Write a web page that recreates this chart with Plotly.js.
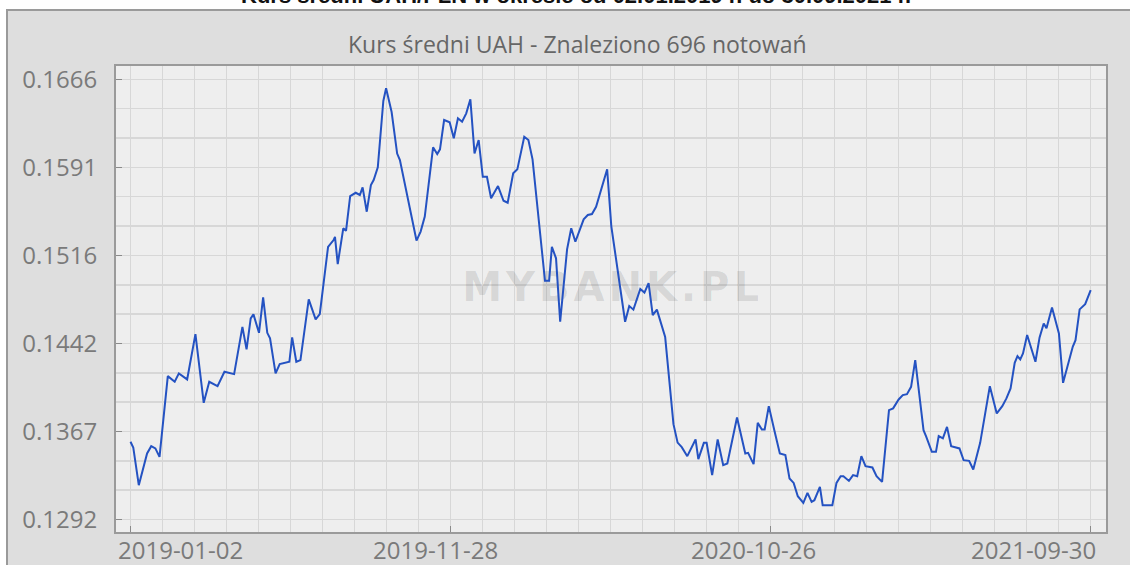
<!DOCTYPE html>
<html>
<head>
<meta charset="utf-8">
<script src="https://cdn.plot.ly/plotly-3.0.1.min.js"></script>
<style>
html,body{margin:0;padding:0;background:#ffffff;overflow:hidden;}
#chart{width:1130px;height:565px;}
</style>
</head>
<body>
<div id="chart"></div>
<script>
// ---- data ----
const chartTitle = 'Kurs średni UAH/PLN w okresie od 02.01.2019 r. do 30.09.2021 r.';
const subTitle = 'Kurs średni UAH - Znaleziono 696 notowań';
const watermarkText = 'MYBANK.PL';
const N_QUOTES = 696;

// quote number (0 = 2019-01-02, 695 = 2021-09-30)
const quoteNo = [
  0,2,6,12,15,18,21,27,32,35,41,47,53,57,63,68,75,81,84,87,
  89,93,96,99,101,105,108,113,115,117,120,123,129,134,137,143,147,148,150,154,
  156,159,163,166,168,171,174,176,179,183,185,189,193,195,207,210,213,219,222,224,
  227,231,234,237,240,243,246,249,252,255,258,261,266,270,273,277,280,285,288,291,
  300,303,305,308,311,316,319,322,328,331,334,337,345,348,358,361,364,369,372,375,
  378,381,387,393,396,399,403,409,411,415,417,421,425,429,432,439,445,447,451,454,
  457,459,462,466,470,474,477,480,483,487,490,493,495,499,501,508,511,514,516,520,
  523,526,529,532,537,540,544,549,552,556,559,562,565,568,574,576,580,583,585,588,
  591,594,600,603,607,610,615,622,627,631,634,637,640,642,644,646,649,655,658,661,
  663,667,672,675,680,682,684,687,691,695
];
// average UAH/PLN rate
const rate = [
  0.13580,0.13532,0.13212,0.13481,0.13543,0.13524,0.13452,0.14138,0.14090,0.14161,
  0.14110,0.14495,0.13911,0.14090,0.14053,0.14175,0.14155,0.14557,0.14365,0.14629,
  0.14663,0.14506,0.14807,0.14506,0.14459,0.14161,0.14240,0.14251,0.14260,0.14467,
  0.14260,0.14274,0.14790,0.14620,0.14665,0.15237,0.15294,0.15322,0.15090,0.15394,
  0.15373,0.15668,0.15696,0.15677,0.15742,0.15535,0.15762,0.15804,0.15912,0.16476,
  0.16584,0.16382,0.16029,0.15974,0.15290,0.15366,0.15494,0.16082,0.16025,0.16065,
  0.16314,0.16295,0.16159,0.16329,0.16300,0.16371,0.16490,0.16031,0.16144,0.15832,
  0.15832,0.15649,0.15753,0.15628,0.15611,0.15861,0.15895,0.16172,0.16144,0.15980,
  0.14948,0.14948,0.15237,0.15139,0.14600,0.15215,0.15394,0.15280,0.15470,0.15507,
  0.15515,0.15577,0.15895,0.15413,0.14600,0.14733,0.14703,0.14878,0.14848,0.14929,
  0.14657,0.14703,0.14470,0.13730,0.13573,0.13535,0.13458,0.13600,0.13433,0.13571,
  0.13571,0.13297,0.13600,0.13382,0.13396,0.13787,0.13481,0.13486,0.13390,0.13741,
  0.13685,0.13685,0.13883,0.13679,0.13481,0.13467,0.13269,0.13231,0.13118,0.13061,
  0.13146,0.13070,0.13084,0.13197,0.13042,0.13042,0.13231,0.13288,0.13288,0.13248,
  0.13297,0.13288,0.13458,0.13373,0.13362,0.13288,0.13240,0.13849,0.13864,0.13940,
  0.13977,0.13985,0.14047,0.14274,0.13679,0.13622,0.13495,0.13495,0.13628,0.13609,
  0.13707,0.13543,0.13524,0.13424,0.13418,0.13345,0.13571,0.14053,0.13821,0.13883,
  0.13949,0.14034,0.14251,0.14308,0.14280,0.14331,0.14487,0.14260,0.14467,0.14586,
  0.14544,0.14722,0.14501,0.14081,0.14289,0.14387,0.14444,0.14705,0.14750,0.14869
];

const xTickLabels = ['2019-01-02', '2019-11-28', '2020-10-26', '2021-09-30'];
const yTickLabels = ['0.1292', '0.1367', '0.1442', '0.1516', '0.1591', '0.1666'];

// ---- derived axis settings ----
const lastQ = N_QUOTES - 1;
const xTickVals = xTickLabels.map((_, i) => i * lastQ / (xTickLabels.length - 1));
const yMin = parseFloat(yTickLabels[0]);
const yMax = parseFloat(yTickLabels[yTickLabels.length - 1]);
const yStep = (yMax - yMin) / (yTickLabels.length - 1);
const yTickVals = yTickLabels.map((_, i) => yMin + i * yStep);
const pxPerQ = 960 / lastQ;
const pxPerY = 440 / (yMax - yMin);

const labelFont = {family: 'Open Sans, Roboto, Arial, sans-serif', size: 24, color: '#7a7a7a'};
const gridCol = '#d7d7d7';

const traces = [
  {
    x: [lastQ / 2], y: [yMin + (yMax - yMin) * 0.5189],
    mode: 'text', type: 'scatter',
    text: [watermarkText.split('').join('\u200A')],
    textfont: {family: 'DejaVu Sans, Arial, sans-serif', size: 40, color: 'rgba(0,0,0,0.11)', weight: 'bold'},
    hoverinfo: 'skip', showlegend: false
  },
  {
    x: quoteNo, y: rate,
    mode: 'lines', type: 'scatter',
    line: {color: '#2452c2', width: 2},
    hoverinfo: 'skip', showlegend: false
  }
];

// x tick labels: first left-aligned to the plot edge, last right-aligned, middle slightly left
const xLabelAnchor = ['left', 'center', 'center', 'right'];
const xLabelShift = [-15, -15, -17, 7];
const xLabelAnnotations = xTickLabels.map((t, i) => ({
  text: t, xref: 'x', yref: 'paper', x: xTickVals[i], y: 0,
  xanchor: xLabelAnchor[i], yanchor: 'top', xshift: xLabelShift[i], yshift: 1,
  showarrow: false, font: labelFont
}));

const layout = {
  width: 1130, height: 565,
  margin: {l: 116, r: 24, t: 66, b: 33, pad: 0},
  paper_bgcolor: '#dedede',
  plot_bgcolor: '#eeeeee',
  showlegend: false,
  xaxis: {
    range: [-14.5 / pxPerQ, lastQ + 15.3 / pxPerQ],
    tickmode: 'array', tickvals: xTickVals, ticktext: xTickLabels,
    showticklabels: false,
    ticks: 'inside', ticklen: 6, tickwidth: 1.5, tickcolor: '#8a8a8a',
    showgrid: true, gridcolor: gridCol, gridwidth: 1.6,
    minor: {tickmode: 'linear', tick0: 0, dtick: lastQ / 30, showgrid: true, gridcolor: gridCol, gridwidth: 1.6, ticks: ''},
    showline: true, linecolor: '#9a9a9a', linewidth: 2, mirror: true,
    zeroline: false, automargin: false, fixedrange: true
  },
  yaxis: {
    range: [yMin - 12.5 / pxPerY, yMax + 13.3 / pxPerY],
    tickmode: 'array', tickvals: yTickVals, ticktext: yTickLabels,
    ticks: 'inside', ticklen: 6, tickwidth: 1.5, tickcolor: '#8a8a8a',
    tickfont: labelFont,
    ticklabelstandoff: 12,
    showgrid: true, gridcolor: gridCol, gridwidth: 1.6,
    minor: {tickmode: 'linear', tick0: yMin, dtick: yStep / 3, showgrid: true, gridcolor: gridCol, gridwidth: 1.6, ticks: ''},
    showline: true, linecolor: '#9a9a9a', linewidth: 2, mirror: true,
    zeroline: false, automargin: false, fixedrange: true
  },
  shapes: [
    // white page area outside the grey panel
    {type: 'rect', xref: 'paper', yref: 'paper', layer: 'below',
     x0: -0.2, x1: 1.2, y0: (532 - 10) / 466, y1: 1.3,
     fillcolor: '#ffffff', line: {width: 0}},
    {type: 'rect', xref: 'paper', yref: 'paper', layer: 'below',
     x0: -0.2, x1: (7 - 116) / 990, y0: -0.2, y1: 1.3,
     fillcolor: '#ffffff', line: {width: 0}},
    // panel border
    {type: 'rect', xref: 'paper', yref: 'paper', layer: 'below',
     x0: (7 - 116) / 990, x1: (1145 - 116) / 990,
     y0: (532 - 580) / 466, y1: (532 - 10) / 466,
     fillcolor: 'rgba(0,0,0,0)', line: {color: '#9a9a9a', width: 2}}
  ],
  annotations: [
    {
      text: '<b>' + chartTitle + '</b>', xref: 'paper', yref: 'paper',
      x: (576 - 116) / 990, y: (532 - 10) / 466, xanchor: 'center', yanchor: 'bottom',
      showarrow: false, font: {family: 'Liberation Sans, Arial, sans-serif', size: 22, color: '#111111'}
    },
    {
      text: subTitle, xref: 'paper', yref: 'paper',
      x: (577 - 116) / 990, y: (532 - 44) / 466, xanchor: 'center', yanchor: 'middle',
      showarrow: false, font: {family: 'Open Sans, Roboto, Arial, sans-serif', size: 23, color: '#666666'}
    }
  ].concat(xLabelAnnotations)
};

Plotly.newPlot('chart', traces, layout, {staticPlot: true, displayModeBar: false});
</script>
</body>
</html>
